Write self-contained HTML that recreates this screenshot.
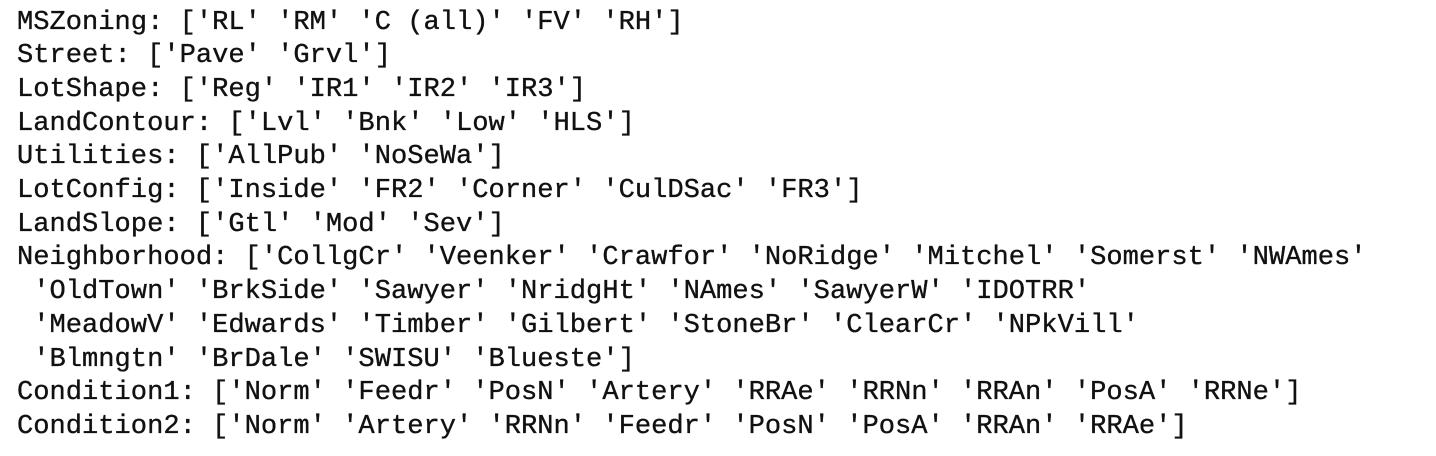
<!DOCTYPE html>
<html><head><meta charset="utf-8"><style>
html,body{margin:0;padding:0;background:#fff;width:1436px;height:456px;overflow:hidden}
pre{margin:0;position:absolute;left:17px;top:5.5px;font-family:"Liberation Mono",monospace;font-size:27.1px;line-height:33.7px;color:#111;-webkit-text-stroke:0.35px #111}
</style></head><body>
<pre>MSZoning: ['RL' 'RM' 'C (all)' 'FV' 'RH']
Street: ['Pave' 'Grvl']
LotShape: ['Reg' 'IR1' 'IR2' 'IR3']
LandContour: ['Lvl' 'Bnk' 'Low' 'HLS']
Utilities: ['AllPub' 'NoSeWa']
LotConfig: ['Inside' 'FR2' 'Corner' 'CulDSac' 'FR3']
LandSlope: ['Gtl' 'Mod' 'Sev']
Neighborhood: ['CollgCr' 'Veenker' 'Crawfor' 'NoRidge' 'Mitchel' 'Somerst' 'NWAmes'
 'OldTown' 'BrkSide' 'Sawyer' 'NridgHt' 'NAmes' 'SawyerW' 'IDOTRR'
 'MeadowV' 'Edwards' 'Timber' 'Gilbert' 'StoneBr' 'ClearCr' 'NPkVill'
 'Blmngtn' 'BrDale' 'SWISU' 'Blueste']
Condition1: ['Norm' 'Feedr' 'PosN' 'Artery' 'RRAe' 'RRNn' 'RRAn' 'PosA' 'RRNe']
Condition2: ['Norm' 'Artery' 'RRNn' 'Feedr' 'PosN' 'PosA' 'RRAn' 'RRAe']</pre>
</body></html>
